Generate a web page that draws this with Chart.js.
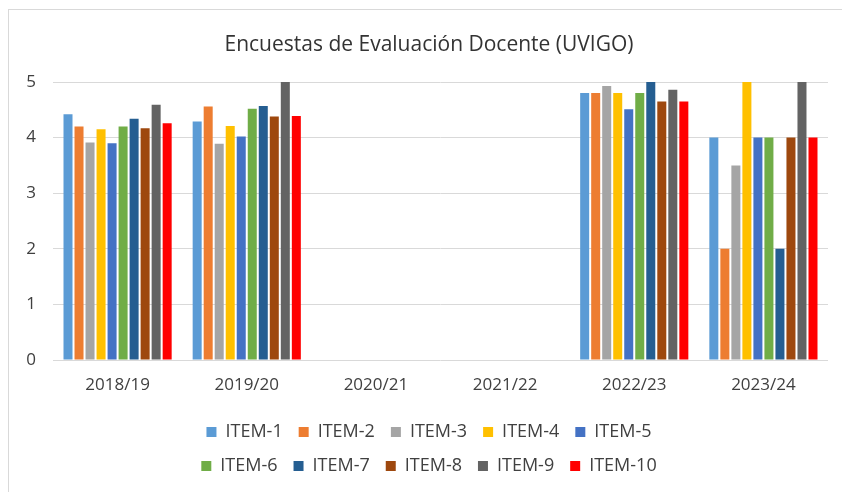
<!DOCTYPE html>
<html>
<head>
<meta charset="utf-8">
<script src="https://cdn.jsdelivr.net/npm/chart.js@4"></script>
<style>
  html, body { margin: 0; padding: 0; background: #fff; }
  #wrap { position: relative; width: 842px; height: 492px; overflow: hidden; }
  #frame { position: absolute; left: 8px; top: 9px; width: 900px; height: 600px;
           border-left: 1px solid #d9d9d9; border-top: 1px solid #d9d9d9; pointer-events: none; }
  canvas { position: absolute; left: 0; top: 0; }
</style>
</head>
<body>
<div id="wrap">
  <canvas id="c" width="842" height="492"></canvas>
  <div id="frame"></div>
</div>
<script>
const titleText = 'Encuestas de Evaluación Docente (UVIGO)';
const categories = ['2018/19', '2019/20', '2020/21', '2021/22', '2022/23', '2023/24'];
const seriesNames = ['ITEM-1', 'ITEM-2', 'ITEM-3', 'ITEM-4', 'ITEM-5', 'ITEM-6', 'ITEM-7', 'ITEM-8', 'ITEM-9', 'ITEM-10'];
const item1  = [4.42, 4.29, null, null, 4.80, 4.0];
const item2  = [4.20, 4.56, null, null, 4.80, 2.0];
const item3  = [3.91, 3.89, null, null, 4.93, 3.5];
const item4  = [4.15, 4.21, null, null, 4.80, 5.0];
const item5  = [3.90, 4.02, null, null, 4.51, 4.0];
const item6  = [4.20, 4.52, null, null, 4.80, 4.0];
const item7  = [4.34, 4.57, null, null, 5.00, 2.0];
const item8  = [4.17, 4.38, null, null, 4.65, 4.0];
const item9  = [4.59, 5.00, null, null, 4.86, 5.0];
const item10 = [4.26, 4.39, null, null, 4.65, 4.0];
const yTicks = [0, 1, 2, 3, 4, 5];
const colors = ['#5B9BD5', '#ED7D31', '#A5A5A5', '#FFC000', '#4472C4', '#70AD47', '#255E91', '#9E480E', '#636363', '#FF0000'];

const seriesValues = [item1, item2, item3, item4, item5, item6, item7, item8, item9, item10];
const datasets = seriesNames.map((name, i) => ({
  label: name,
  data: seriesValues[i],
  backgroundColor: colors[i],
  borderWidth: 0,
  categoryPercentage: 0.853,
  barPercentage: 0.818
}));

const FONT = '"Open Sans", "Liberation Sans", sans-serif';
const LEGEND_WRAP_WIDTH = 520;

// Make the legend wrap into two rows of five, centred like the original.
function patchLegend(target) {
  if (!target || target.__wrapped) return;
  const origFit = target._fitRows;
  const origDraw = target._draw;
  if (typeof origFit === 'function') {
    target._fitRows = function (...args) {
      const mw = this.maxWidth;
      this.maxWidth = Math.min(mw, LEGEND_WRAP_WIDTH);
      const r = origFit.apply(this, args);
      this.maxWidth = mw;
      return r;
    };
  }
  if (typeof origDraw === 'function') {
    target._draw = function (...args) {
      const l = this.left, r = this.right;
      const c = (l + r) / 2;
      const w = Math.min(r - l, LEGEND_WRAP_WIDTH);
      this.left = c - w / 2;
      this.right = c + w / 2;
      const res = origDraw.apply(this, args);
      this.left = l;
      this.right = r;
      return res;
    };
  }
  target.__wrapped = true;
}
if (Chart.Legend && Chart.Legend._element) {
  patchLegend(Chart.Legend._element.prototype);
}
const legendWrap = {
  id: 'legendWrap',
  beforeLayout(chart) { if (chart.legend && !chart.legend.__wrapped) patchLegend(chart.legend); }
};

new Chart(document.getElementById('c'), {
  type: 'bar',
  data: { labels: categories, datasets },
  plugins: [legendWrap],
  options: {
    responsive: false,
    animation: false,
    layout: { padding: { left: 16, right: 0, top: 0, bottom: 7 } },
    plugins: {
      tooltip: { enabled: false },
      title: {
        display: true,
        text: titleText,
        color: '#333333',
        font: { family: FONT, size: 21, weight: 'normal' },
        padding: { top: 32, bottom: 24.8 }
      },
      legend: {
        position: 'bottom',
        labels: {
          boxWidth: 10,
          boxHeight: 10,
          padding: 16,
          color: '#404040',
          font: { family: FONT, size: 18 }
        }
      }
    },
    scales: {
      x: {
        grid: { display: false, drawTicks: false },
        border: { display: false },
        ticks: { color: '#404040', font: { family: FONT, size: 17 }, padding: 15, maxRotation: 0 },
        afterFit(s) { s.height = 47; }
      },
      y: {
        min: 0, max: 5,
        afterBuildTicks(s) { s.ticks = yTicks.map(v => ({ value: v })); },
        grid: { color: '#d9d9d9', lineWidth: 1, drawTicks: false },
        border: { display: false },
        ticks: { color: '#404040', font: { family: FONT, size: 17 }, padding: 17 },
        afterFit(s) { s.width = 37; }
      },
      yR: {
        position: 'right',
        display: true,
        grid: { display: false, drawTicks: false },
        border: { display: false },
        ticks: { display: false },
        afterFit(s) { s.width = 14; }
      }
    }
  }
});
</script>
</body>
</html>
